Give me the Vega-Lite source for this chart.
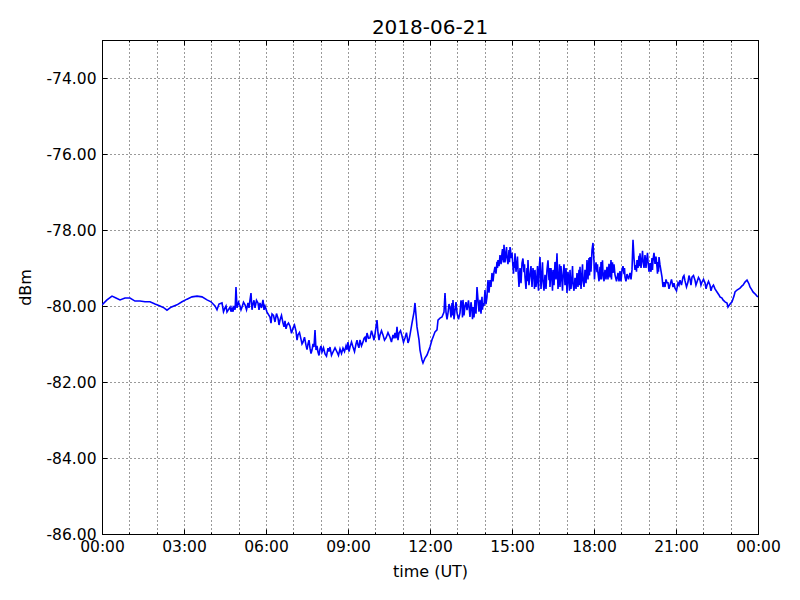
{
  "$schema": "https://vega.github.io/schema/vega-lite/v6.json",
  "width": 656,
  "height": 494,
  "autosize": "none",
  "padding": {"left": 102, "top": 40, "right": 42, "bottom": 66},
  "background": "white",
  "title": {"text": "2018-06-21", "font": "DejaVu Sans", "fontSize": 20, "fontWeight": "normal", "color": "black", "offset": 2},
  "config": {
    "view": {"stroke": "black", "strokeWidth": 1},
    "axis": {
      "labelFont": "DejaVu Sans", "titleFont": "DejaVu Sans",
      "labelFontSize": 15.5, "titleFontSize": 16, "titleFontWeight": "normal",
      "labelColor": "black", "titleColor": "black",
      "domainColor": "black", "tickColor": "black",
      "gridColor": "black", "gridDash": [1, 3], "gridWidth": 0.8, "gridOpacity": 1
    }
  },
  "data": {"values": [
{"t":0,"dbm":-79.97},{"t":0.183,"dbm":-79.84},{"t":0.366,"dbm":-79.74},{"t":0.512,"dbm":-79.79},{"t":0.659,"dbm":-79.84},{"t":0.841,"dbm":-79.79},{"t":1.024,"dbm":-79.79},{"t":1.207,"dbm":-79.87},{"t":1.39,"dbm":-79.87},{"t":1.573,"dbm":-79.89},{"t":1.756,"dbm":-79.89},{"t":1.939,"dbm":-79.95},{"t":2.122,"dbm":-80.0},{"t":2.268,"dbm":-80.05},{"t":2.378,"dbm":-80.11},{"t":2.524,"dbm":-80.03},{"t":2.744,"dbm":-79.97},{"t":2.927,"dbm":-79.89},{"t":3.11,"dbm":-79.82},{"t":3.293,"dbm":-79.76},{"t":3.476,"dbm":-79.74},{"t":3.659,"dbm":-79.76},{"t":3.841,"dbm":-79.84},{"t":3.988,"dbm":-79.89},{"t":4.134,"dbm":-80.0},{"t":4.207,"dbm":-80.1},{"t":4.28,"dbm":-79.95},{"t":4.39,"dbm":-79.92},{"t":4.445,"dbm":-80.15},{"t":4.5,"dbm":-80.05},{"t":4.537,"dbm":-80.0},{"t":4.573,"dbm":-80.16},{"t":4.683,"dbm":-80.03},{"t":4.72,"dbm":-80.15},{"t":4.756,"dbm":-80.05},{"t":4.793,"dbm":-80.15},{"t":4.829,"dbm":-80.0},{"t":4.87,"dbm":-80.1},{"t":4.902,"dbm":-79.5},{"t":4.939,"dbm":-80.05},{"t":4.994,"dbm":-79.9},{"t":5.049,"dbm":-80.0},{"t":5.085,"dbm":-80.1},{"t":5.122,"dbm":-80.03},{"t":5.177,"dbm":-79.9},{"t":5.232,"dbm":-79.97},{"t":5.287,"dbm":-80.1},{"t":5.341,"dbm":-79.92},{"t":5.378,"dbm":-80.05},{"t":5.415,"dbm":-79.84},{"t":5.451,"dbm":-79.66},{"t":5.488,"dbm":-80.1},{"t":5.524,"dbm":-79.95},{"t":5.561,"dbm":-79.85},{"t":5.598,"dbm":-80.05},{"t":5.652,"dbm":-79.85},{"t":5.707,"dbm":-79.92},{"t":5.744,"dbm":-80.1},{"t":5.78,"dbm":-79.92},{"t":5.835,"dbm":-80.05},{"t":5.89,"dbm":-79.84},{"t":5.927,"dbm":-80.1},{"t":5.963,"dbm":-80.0},{"t":6.037,"dbm":-80.16},{"t":6.146,"dbm":-80.29},{"t":6.183,"dbm":-80.45},{"t":6.22,"dbm":-80.21},{"t":6.275,"dbm":-80.25},{"t":6.329,"dbm":-80.42},{"t":6.384,"dbm":-80.2},{"t":6.439,"dbm":-80.32},{"t":6.476,"dbm":-80.5},{"t":6.512,"dbm":-80.37},{"t":6.567,"dbm":-80.25},{"t":6.622,"dbm":-80.45},{"t":6.659,"dbm":-80.55},{"t":6.695,"dbm":-80.39},{"t":6.732,"dbm":-80.6},{"t":6.768,"dbm":-80.5},{"t":6.823,"dbm":-80.45},{"t":6.878,"dbm":-80.53},{"t":6.933,"dbm":-80.72},{"t":6.988,"dbm":-80.58},{"t":7.043,"dbm":-80.5},{"t":7.098,"dbm":-80.66},{"t":7.135,"dbm":-80.9},{"t":7.171,"dbm":-80.76},{"t":7.225,"dbm":-80.7},{"t":7.28,"dbm":-80.87},{"t":7.317,"dbm":-81.0},{"t":7.354,"dbm":-80.95},{"t":7.408,"dbm":-80.82},{"t":7.463,"dbm":-81.03},{"t":7.5,"dbm":-81.15},{"t":7.537,"dbm":-81.0},{"t":7.573,"dbm":-80.9},{"t":7.61,"dbm":-81.11},{"t":7.647,"dbm":-81.25},{"t":7.683,"dbm":-81.16},{"t":7.72,"dbm":-81.0},{"t":7.756,"dbm":-81.08},{"t":7.793,"dbm":-80.63},{"t":7.829,"dbm":-81.16},{"t":7.866,"dbm":-81.05},{"t":7.902,"dbm":-81.21},{"t":7.939,"dbm":-81.3},{"t":7.976,"dbm":-81.13},{"t":8.012,"dbm":-81.05},{"t":8.049,"dbm":-81.21},{"t":8.104,"dbm":-81.1},{"t":8.159,"dbm":-81.26},{"t":8.213,"dbm":-81.32},{"t":8.268,"dbm":-81.11},{"t":8.305,"dbm":-81.2},{"t":8.341,"dbm":-81.08},{"t":8.396,"dbm":-81.3},{"t":8.451,"dbm":-81.21},{"t":8.525,"dbm":-81.1},{"t":8.598,"dbm":-81.21},{"t":8.652,"dbm":-81.3},{"t":8.707,"dbm":-81.13},{"t":8.762,"dbm":-81.25},{"t":8.817,"dbm":-81.11},{"t":8.872,"dbm":-81.2},{"t":8.927,"dbm":-81.05},{"t":8.963,"dbm":-81.15},{"t":9.0,"dbm":-80.95},{"t":9.037,"dbm":-81.2},{"t":9.073,"dbm":-81.08},{"t":9.128,"dbm":-80.95},{"t":9.183,"dbm":-81.08},{"t":9.238,"dbm":-81.2},{"t":9.293,"dbm":-81.0},{"t":9.33,"dbm":-80.9},{"t":9.366,"dbm":-81.03},{"t":9.4,"dbm":-81.1},{"t":9.439,"dbm":-80.89},{"t":9.494,"dbm":-81.05},{"t":9.549,"dbm":-80.95},{"t":9.585,"dbm":-80.85},{"t":9.622,"dbm":-80.82},{"t":9.658,"dbm":-80.95},{"t":9.695,"dbm":-80.71},{"t":9.75,"dbm":-80.85},{"t":9.805,"dbm":-80.84},{"t":9.86,"dbm":-80.65},{"t":9.915,"dbm":-80.79},{"t":9.95,"dbm":-80.9},{"t":9.988,"dbm":-80.74},{"t":10.061,"dbm":-80.37},{"t":10.098,"dbm":-80.71},{"t":10.134,"dbm":-80.9},{"t":10.171,"dbm":-80.76},{"t":10.225,"dbm":-80.65},{"t":10.28,"dbm":-80.76},{"t":10.335,"dbm":-80.9},{"t":10.39,"dbm":-80.84},{"t":10.463,"dbm":-80.7},{"t":10.537,"dbm":-80.82},{"t":10.59,"dbm":-80.95},{"t":10.646,"dbm":-80.76},{"t":10.683,"dbm":-80.85},{"t":10.72,"dbm":-80.71},{"t":10.757,"dbm":-80.85},{"t":10.793,"dbm":-80.55},{"t":10.829,"dbm":-80.9},{"t":10.866,"dbm":-80.71},{"t":10.921,"dbm":-80.65},{"t":10.976,"dbm":-80.79},{"t":11.03,"dbm":-80.95},{"t":11.085,"dbm":-80.84},{"t":11.14,"dbm":-80.7},{"t":11.195,"dbm":-80.97},{"t":11.23,"dbm":-80.9},{"t":11.268,"dbm":-80.76},{"t":11.341,"dbm":-80.45},{"t":11.415,"dbm":-80.16},{"t":11.451,"dbm":-79.92},{"t":11.488,"dbm":-80.24},{"t":11.524,"dbm":-80.55},{"t":11.598,"dbm":-80.89},{"t":11.634,"dbm":-81.16},{"t":11.707,"dbm":-81.42},{"t":11.744,"dbm":-81.5},{"t":11.817,"dbm":-81.37},{"t":11.89,"dbm":-81.29},{"t":12.0,"dbm":-81.08},{"t":12.073,"dbm":-80.89},{"t":12.11,"dbm":-80.82},{"t":12.183,"dbm":-80.68},{"t":12.256,"dbm":-80.63},{"t":12.293,"dbm":-80.37},{"t":12.366,"dbm":-80.32},{"t":12.439,"dbm":-80.29},{"t":12.512,"dbm":-80.16},{"t":12.549,"dbm":-79.66},{"t":12.585,"dbm":-80.16},{"t":12.622,"dbm":-80.35},{"t":12.659,"dbm":-80.18},{"t":12.695,"dbm":-79.95},{"t":12.732,"dbm":-80.03},{"t":12.768,"dbm":-80.3},{"t":12.805,"dbm":-79.92},{"t":12.823,"dbm":-80.25},{"t":12.841,"dbm":-79.84},{"t":12.878,"dbm":-80.35},{"t":12.915,"dbm":-80.11},{"t":12.951,"dbm":-79.9},{"t":12.988,"dbm":-80.18},{"t":13.043,"dbm":-80.35},{"t":13.098,"dbm":-80.18},{"t":13.134,"dbm":-79.85},{"t":13.171,"dbm":-79.97},{"t":13.189,"dbm":-80.3},{"t":13.207,"dbm":-79.84},{"t":13.244,"dbm":-80.25},{"t":13.28,"dbm":-80.0},{"t":13.317,"dbm":-79.9},{"t":13.354,"dbm":-80.11},{"t":13.408,"dbm":-79.85},{"t":13.463,"dbm":-80.29},{"t":13.5,"dbm":-79.9},{"t":13.537,"dbm":-80.11},{"t":13.555,"dbm":-80.35},{"t":13.573,"dbm":-80.03},{"t":13.61,"dbm":-80.3},{"t":13.646,"dbm":-79.84},{"t":13.683,"dbm":-80.2},{"t":13.72,"dbm":-79.5},{"t":13.756,"dbm":-79.84},{"t":13.793,"dbm":-80.15},{"t":13.829,"dbm":-79.84},{"t":13.866,"dbm":-80.2},{"t":13.902,"dbm":-79.76},{"t":13.92,"dbm":-80.1},{"t":13.939,"dbm":-79.92},{"t":13.975,"dbm":-80.0},{"t":14.012,"dbm":-79.58},{"t":14.048,"dbm":-79.95},{"t":14.085,"dbm":-79.76},{"t":14.103,"dbm":-79.5},{"t":14.122,"dbm":-79.32},{"t":14.158,"dbm":-79.65},{"t":14.195,"dbm":-79.32},{"t":14.231,"dbm":-79.5},{"t":14.268,"dbm":-79.13},{"t":14.305,"dbm":-79.35},{"t":14.341,"dbm":-79.11},{"t":14.378,"dbm":-78.97},{"t":14.414,"dbm":-79.15},{"t":14.451,"dbm":-78.84},{"t":14.47,"dbm":-79.0},{"t":14.488,"dbm":-78.79},{"t":14.525,"dbm":-78.95},{"t":14.561,"dbm":-78.66},{"t":14.6,"dbm":-78.9},{"t":14.634,"dbm":-78.61},{"t":14.652,"dbm":-78.5},{"t":14.671,"dbm":-78.74},{"t":14.689,"dbm":-78.85},{"t":14.707,"dbm":-78.39},{"t":14.744,"dbm":-78.85},{"t":14.78,"dbm":-78.58},{"t":14.8,"dbm":-78.45},{"t":14.817,"dbm":-78.71},{"t":14.853,"dbm":-78.9},{"t":14.89,"dbm":-78.53},{"t":14.909,"dbm":-78.85},{"t":14.927,"dbm":-78.45},{"t":14.945,"dbm":-78.5},{"t":14.963,"dbm":-78.74},{"t":15.0,"dbm":-78.6},{"t":15.037,"dbm":-78.97},{"t":15.055,"dbm":-79.15},{"t":15.073,"dbm":-78.84},{"t":15.09,"dbm":-79.0},{"t":15.11,"dbm":-78.61},{"t":15.146,"dbm":-79.1},{"t":15.183,"dbm":-78.84},{"t":15.2,"dbm":-78.7},{"t":15.22,"dbm":-79.05},{"t":15.256,"dbm":-79.5},{"t":15.293,"dbm":-79.0},{"t":15.33,"dbm":-79.4},{"t":15.366,"dbm":-78.87},{"t":15.4,"dbm":-78.75},{"t":15.439,"dbm":-79.11},{"t":15.457,"dbm":-78.9},{"t":15.476,"dbm":-79.24},{"t":15.512,"dbm":-79.55},{"t":15.549,"dbm":-79.0},{"t":15.567,"dbm":-79.35},{"t":15.585,"dbm":-78.79},{"t":15.62,"dbm":-79.45},{"t":15.659,"dbm":-79.18},{"t":15.695,"dbm":-78.95},{"t":15.732,"dbm":-79.5},{"t":15.768,"dbm":-79.0},{"t":15.805,"dbm":-79.26},{"t":15.823,"dbm":-79.55},{"t":15.841,"dbm":-79.05},{"t":15.878,"dbm":-79.5},{"t":15.915,"dbm":-79.21},{"t":15.933,"dbm":-78.95},{"t":15.951,"dbm":-79.39},{"t":15.97,"dbm":-79.6},{"t":15.988,"dbm":-79.11},{"t":16.024,"dbm":-78.71},{"t":16.061,"dbm":-79.55},{"t":16.098,"dbm":-79.11},{"t":16.116,"dbm":-78.85},{"t":16.134,"dbm":-79.32},{"t":16.17,"dbm":-79.6},{"t":16.207,"dbm":-79.18},{"t":16.244,"dbm":-79.55},{"t":16.28,"dbm":-79.05},{"t":16.317,"dbm":-78.8},{"t":16.354,"dbm":-79.32},{"t":16.372,"dbm":-79.0},{"t":16.39,"dbm":-79.5},{"t":16.426,"dbm":-79.0},{"t":16.463,"dbm":-79.32},{"t":16.482,"dbm":-79.6},{"t":16.5,"dbm":-79.05},{"t":16.537,"dbm":-79.45},{"t":16.573,"dbm":-78.84},{"t":16.61,"dbm":-79.3},{"t":16.646,"dbm":-78.61},{"t":16.683,"dbm":-79.55},{"t":16.72,"dbm":-79.18},{"t":16.738,"dbm":-78.9},{"t":16.756,"dbm":-79.5},{"t":16.792,"dbm":-78.95},{"t":16.829,"dbm":-79.37},{"t":16.848,"dbm":-79.6},{"t":16.866,"dbm":-79.24},{"t":16.902,"dbm":-78.9},{"t":16.939,"dbm":-79.45},{"t":16.976,"dbm":-79.0},{"t":17.012,"dbm":-79.66},{"t":17.048,"dbm":-79.1},{"t":17.085,"dbm":-79.37},{"t":17.104,"dbm":-79.6},{"t":17.122,"dbm":-79.05},{"t":17.158,"dbm":-79.55},{"t":17.195,"dbm":-79.26},{"t":17.214,"dbm":-78.95},{"t":17.232,"dbm":-79.39},{"t":17.268,"dbm":-79.6},{"t":17.305,"dbm":-79.26},{"t":17.342,"dbm":-79.55},{"t":17.378,"dbm":-79.13},{"t":17.414,"dbm":-79.5},{"t":17.451,"dbm":-79.05},{"t":17.47,"dbm":-79.45},{"t":17.488,"dbm":-78.97},{"t":17.525,"dbm":-79.55},{"t":17.561,"dbm":-79.11},{"t":17.58,"dbm":-78.9},{"t":17.598,"dbm":-79.32},{"t":17.634,"dbm":-79.5},{"t":17.671,"dbm":-79.05},{"t":17.708,"dbm":-79.4},{"t":17.744,"dbm":-78.79},{"t":17.78,"dbm":-79.3},{"t":17.817,"dbm":-78.74},{"t":17.836,"dbm":-79.2},{"t":17.854,"dbm":-78.71},{"t":17.89,"dbm":-79.1},{"t":17.927,"dbm":-78.53},{"t":17.963,"dbm":-78.34},{"t":18.0,"dbm":-78.84},{"t":18.018,"dbm":-79.3},{"t":18.037,"dbm":-79.05},{"t":18.074,"dbm":-78.85},{"t":18.11,"dbm":-79.11},{"t":18.128,"dbm":-78.9},{"t":18.146,"dbm":-79.13},{"t":18.183,"dbm":-79.35},{"t":18.22,"dbm":-78.97},{"t":18.238,"dbm":-79.3},{"t":18.256,"dbm":-78.84},{"t":18.275,"dbm":-79.3},{"t":18.293,"dbm":-79.0},{"t":18.311,"dbm":-78.8},{"t":18.329,"dbm":-79.13},{"t":18.366,"dbm":-79.35},{"t":18.402,"dbm":-79.05},{"t":18.439,"dbm":-79.3},{"t":18.476,"dbm":-78.97},{"t":18.512,"dbm":-79.3},{"t":18.549,"dbm":-78.89},{"t":18.585,"dbm":-79.25},{"t":18.622,"dbm":-78.79},{"t":18.64,"dbm":-79.3},{"t":18.659,"dbm":-78.95},{"t":18.677,"dbm":-78.85},{"t":18.695,"dbm":-79.13},{"t":18.732,"dbm":-78.9},{"t":18.768,"dbm":-79.18},{"t":18.823,"dbm":-79.35},{"t":18.878,"dbm":-79.13},{"t":18.915,"dbm":-79.35},{"t":18.951,"dbm":-79.08},{"t":18.988,"dbm":-79.35},{"t":19.024,"dbm":-79.05},{"t":19.061,"dbm":-78.95},{"t":19.098,"dbm":-79.16},{"t":19.116,"dbm":-79.0},{"t":19.134,"dbm":-79.24},{"t":19.17,"dbm":-79.35},{"t":19.207,"dbm":-79.16},{"t":19.262,"dbm":-79.3},{"t":19.317,"dbm":-79.13},{"t":19.354,"dbm":-79.3},{"t":19.39,"dbm":-79.05},{"t":19.427,"dbm":-78.26},{"t":19.463,"dbm":-78.74},{"t":19.5,"dbm":-79.05},{"t":19.537,"dbm":-78.92},{"t":19.555,"dbm":-79.1},{"t":19.573,"dbm":-78.79},{"t":19.61,"dbm":-79.0},{"t":19.646,"dbm":-78.68},{"t":19.665,"dbm":-78.95},{"t":19.683,"dbm":-78.61},{"t":19.72,"dbm":-79.0},{"t":19.756,"dbm":-78.74},{"t":19.775,"dbm":-78.55},{"t":19.793,"dbm":-78.79},{"t":19.83,"dbm":-79.0},{"t":19.866,"dbm":-78.66},{"t":19.902,"dbm":-79.0},{"t":19.939,"dbm":-78.71},{"t":19.958,"dbm":-78.6},{"t":19.976,"dbm":-78.82},{"t":20.012,"dbm":-79.1},{"t":20.049,"dbm":-78.87},{"t":20.085,"dbm":-79.1},{"t":20.122,"dbm":-78.74},{"t":20.14,"dbm":-79.05},{"t":20.159,"dbm":-78.79},{"t":20.195,"dbm":-78.6},{"t":20.232,"dbm":-78.89},{"t":20.268,"dbm":-78.7},{"t":20.305,"dbm":-78.97},{"t":20.323,"dbm":-79.15},{"t":20.341,"dbm":-78.84},{"t":20.36,"dbm":-79.1},{"t":20.378,"dbm":-78.71},{"t":20.415,"dbm":-78.92},{"t":20.488,"dbm":-79.24},{"t":20.524,"dbm":-79.5},{"t":20.561,"dbm":-79.37},{"t":20.598,"dbm":-79.5},{"t":20.634,"dbm":-79.3},{"t":20.671,"dbm":-79.39},{"t":20.707,"dbm":-79.39},{"t":20.744,"dbm":-79.55},{"t":20.78,"dbm":-79.45},{"t":20.835,"dbm":-79.3},{"t":20.89,"dbm":-79.5},{"t":20.927,"dbm":-79.4},{"t":20.963,"dbm":-79.53},{"t":21.018,"dbm":-79.6},{"t":21.073,"dbm":-79.39},{"t":21.11,"dbm":-79.45},{"t":21.146,"dbm":-79.32},{"t":21.2,"dbm":-79.45},{"t":21.256,"dbm":-79.24},{"t":21.292,"dbm":-79.2},{"t":21.329,"dbm":-79.34},{"t":21.384,"dbm":-79.5},{"t":21.439,"dbm":-79.37},{"t":21.475,"dbm":-79.2},{"t":21.512,"dbm":-79.29},{"t":21.548,"dbm":-79.45},{"t":21.585,"dbm":-79.24},{"t":21.64,"dbm":-79.2},{"t":21.695,"dbm":-79.32},{"t":21.73,"dbm":-79.45},{"t":21.768,"dbm":-79.37},{"t":21.823,"dbm":-79.25},{"t":21.878,"dbm":-79.32},{"t":21.914,"dbm":-79.45},{"t":21.951,"dbm":-79.37},{"t":22.006,"dbm":-79.3},{"t":22.061,"dbm":-79.39},{"t":22.1,"dbm":-79.55},{"t":22.134,"dbm":-79.45},{"t":22.19,"dbm":-79.35},{"t":22.244,"dbm":-79.45},{"t":22.28,"dbm":-79.6},{"t":22.317,"dbm":-79.5},{"t":22.37,"dbm":-79.45},{"t":22.427,"dbm":-79.55},{"t":22.5,"dbm":-79.63},{"t":22.573,"dbm":-79.71},{"t":22.61,"dbm":-79.76},{"t":22.683,"dbm":-79.79},{"t":22.72,"dbm":-79.84},{"t":22.793,"dbm":-79.89},{"t":22.866,"dbm":-79.92},{"t":22.902,"dbm":-80.03},{"t":22.976,"dbm":-79.95},{"t":23.049,"dbm":-79.89},{"t":23.122,"dbm":-79.74},{"t":23.159,"dbm":-79.63},{"t":23.232,"dbm":-79.58},{"t":23.342,"dbm":-79.53},{"t":23.415,"dbm":-79.47},{"t":23.451,"dbm":-79.45},{"t":23.524,"dbm":-79.37},{"t":23.598,"dbm":-79.32},{"t":23.671,"dbm":-79.42},{"t":23.707,"dbm":-79.5},{"t":23.78,"dbm":-79.58},{"t":23.817,"dbm":-79.63},{"t":23.89,"dbm":-79.68},{"t":23.963,"dbm":-79.74},{"t":24.0,"dbm":-79.76}
  ]},
  "layer": [
    {
      "mark": {"type": "line", "color": "#0000ff", "strokeWidth": 1.6, "clip": true},
      "encoding": {
        "x": {
          "field": "t", "type": "quantitative",
          "scale": {"domain": [0, 24], "nice": false, "zero": false},
          "axis": {
            "orient": "bottom", "title": "time (UT)", "titlePadding": 6,
            "values": [0,1,2,3,4,5,6,7,8,9,10,11,12,13,14,15,16,17,18,19,20,21,22,23,24],
            "labelExpr": "datum.value % 3 == 0 ? ((datum.value % 24) < 10 ? '0' : '') + (datum.value % 24) + ':00' : ''",
            "grid": true, "domain": true,
            "tickSize": {"condition": {"test": "datum.value % 3 == 0", "value": -5}, "value": -2},
            "labelPadding": 10, "labelFlush": false, "labelOverlap": false
          }
        },
        "y": {
          "field": "dbm", "type": "quantitative",
          "scale": {"domain": [-86, -73], "nice": false, "zero": false},
          "axis": {
            "orient": "left", "title": "dBm", "titlePadding": 13,
            "values": [-86, -84, -82, -80, -78, -76, -74],
            "labelExpr": "datum.value < 0 ? '-' + format(-datum.value, '.2f') : format(datum.value, '.2f')",
            "grid": true, "domain": true, "tickSize": -5, "labelPadding": 11
          }
        }
      }
    },
    {
      "mark": {"type": "line", "opacity": 0},
      "encoding": {
        "x": {
          "field": "t", "type": "quantitative",
          "axis": {
            "orient": "top", "title": null, "labels": false, "grid": false,
            "values": [0,1,2,3,4,5,6,7,8,9,10,11,12,13,14,15,16,17,18,19,20,21,22,23,24],
            "tickSize": {"condition": {"test": "datum.value % 3 == 0", "value": -5}, "value": -2}
          }
        },
        "y": {
          "field": "dbm", "type": "quantitative",
          "axis": {
            "orient": "right", "title": null, "labels": false, "grid": false,
            "values": [-86, -84, -82, -80, -78, -76, -74], "tickSize": -5
          }
        }
      }
    }
  ],
  "resolve": {"axis": {"x": "independent", "y": "independent"}}
}
